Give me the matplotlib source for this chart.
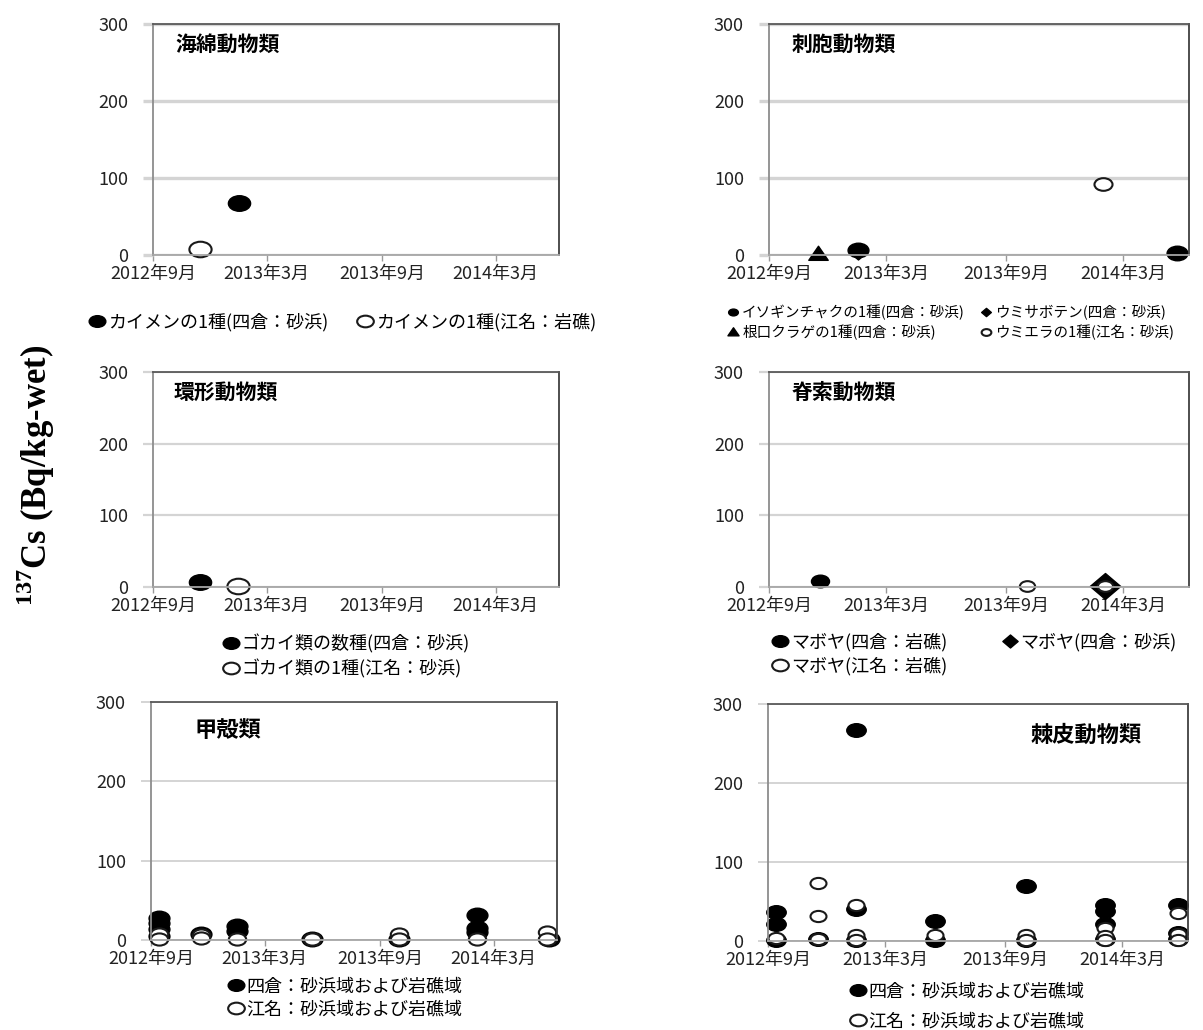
import matplotlib
matplotlib.use('Agg')
import matplotlib.pyplot as plt
import pandas as pd
from matplotlib.path import Path
from matplotlib.lines import Line2D

plt.rcParams['font.family'] = ['Noto Sans CJK JP', 'DejaVu Sans']
plt.rcParams['mathtext.fontset'] = 'custom'
plt.rcParams['mathtext.rm'] = 'Liberation Serif:bold'
plt.rcParams['mathtext.bf'] = 'Liberation Serif:bold'

# ---- データ (137Cs, Bq/kg-wet) ----
# 海綿動物類
kaimen_yotsukura_date = ['2013-01-16']
kaimen_yotsukura_cs = [67]
kaimen_ena_date = ['2012-11-15']
kaimen_ena_cs = [8]

# 刺胞動物類
isoginchaku_date = ['2013-01-16', '2014-05-22']
isoginchaku_cs = [6, 2]
umisaboten_date = ['2013-01-16']
umisaboten_cs = [3]
nekuchi_date = ['2012-11-16']
nekuchi_cs = [1]
umiera_date = ['2014-01-28']
umiera_cs = [92]

# 環形動物類
gokai_yotsukura_date = ['2012-11-15']
gokai_yotsukura_cs = [7]
gokai_ena_date = ['2013-01-15']
gokai_ena_cs = [1]

# 脊索動物類
maboya_rock_date = ['2012-11-18']
maboya_rock_cs = [8]
maboya_sand_date = ['2014-01-31']
maboya_sand_cs = [1]
maboya_ena_date = ['2013-10-04', '2014-01-31']
maboya_ena_cs = [1, 2]

# 甲殻類
koukaku_yotsukura_date = ['2012-09-13', '2012-09-13', '2012-09-13', '2012-09-13',
                          '2012-11-19', '2013-01-16', '2013-01-16', '2013-05-16',
                          '2013-10-02', '2014-02-03', '2014-02-03', '2014-02-03',
                          '2014-05-29']
koukaku_yotsukura_cs = [28, 21, 14, 5, 7, 17, 11, 1, 1, 32, 15, 10, 1]
koukaku_ena_date = ['2012-09-13', '2012-09-13', '2012-11-19', '2012-11-19',
                    '2013-01-16', '2013-05-16', '2013-10-02', '2013-10-02',
                    '2014-02-03', '2014-05-25', '2014-05-25']
koukaku_ena_cs = [8, 1, 6, 3, 1, 1, 8, 1, 1, 10, 1]

# 棘皮動物類
kyokuhi_yotsukura_date = ['2012-09-13', '2012-09-13', '2012-09-13', '2012-11-17',
                          '2013-01-14', '2013-01-14', '2013-01-14', '2013-05-16',
                          '2013-05-16', '2013-10-03', '2013-10-03', '2014-02-02',
                          '2014-02-02', '2014-02-02', '2014-02-02', '2014-05-25',
                          '2014-05-25', '2014-05-25']
kyokuhi_yotsukura_cs = [37, 21, 1, 3, 267, 41, 1, 25, 1, 69, 1, 46, 38, 22, 3, 46, 10, 2]
kyokuhi_ena_date = ['2012-09-13', '2012-11-17', '2012-11-17', '2012-11-17',
                    '2013-01-14', '2013-01-14', '2013-01-14', '2013-05-16',
                    '2013-10-03', '2013-10-03', '2014-02-02', '2014-02-02',
                    '2014-02-02', '2014-05-25', '2014-05-25', '2014-05-25']
kyokuhi_ena_cs = [4, 73, 32, 2, 46, 8, 1, 8, 8, 1, 16, 6, 1, 35, 9, 1]

xtick_dates = ['2012-09-01', '2013-03-01', '2013-09-01', '2014-03-01']
xtick_labels = ['2012年9月', '2013年3月', '2013年9月', '2014年3月']
yticks = [0, 100, 200, 300]

# 横長の楕円・ひし形マーカー
circ = Path.unit_circle()
ellipse = Path(circ.vertices * [1.0, 0.7], circ.codes)
diamond = Path([[0, 0.85], [1, 0], [0, -0.85], [-1, 0], [0, 0.85]],
               [Path.MOVETO, Path.LINETO, Path.LINETO, Path.LINETO, Path.CLOSEPOLY])
triangle = Path([[0, 0.85], [1, -0.6], [-1, -0.6], [0, 0.85]],
                [Path.MOVETO, Path.LINETO, Path.LINETO, Path.CLOSEPOLY])

FILLED = dict(marker=ellipse, ls='none', mfc='black', mec='black', mew=1.0)
OPEN = dict(marker=ellipse, ls='none', mfc='white', mec='#1a1a1a', mew=1.5)

fig = plt.figure(figsize=(12.03, 10.30), dpi=100)

positions = [
    [0.1272, 0.7524, 0.3375, 0.2243],
    [0.6392, 0.7524, 0.3491, 0.2243],
    [0.1272, 0.4301, 0.3375, 0.2087],
    [0.6392, 0.4301, 0.3491, 0.2087],
    [0.1255, 0.0874, 0.3375, 0.2311],
    [0.6384, 0.0864, 0.3491, 0.2301],
]
grid_lw = [2.4, 2.4, 1.6, 1.6, 1.4, 1.4]
axes = [fig.add_axes(p) for p in positions]


def d(lst):
    return pd.to_datetime(lst)


for i, ax in enumerate(axes):
    ax.set_xlim(pd.Timestamp('2012-09-01'), pd.Timestamp('2014-06-10'))
    ax.set_ylim(0, 300)
    ax.set_xticks(d(xtick_dates))
    ax.set_xticklabels(xtick_labels, fontsize=13, color='#222222')
    ax.set_yticks(yticks)
    ax.set_yticklabels([str(v) for v in yticks], fontsize=13, color='#222222')
    ax.yaxis.grid(True, color='#d4d4d4', lw=grid_lw[i])
    ax.set_axisbelow(True)
    ax.tick_params(axis='y', length=7, width=grid_lw[i], color='#d4d4d4', pad=11)
    ax.tick_params(axis='x', length=4, width=1, color='#999999', pad=3)
    ax.spines['left'].set_color('#8c8c8c')
    ax.spines['bottom'].set_color('#a6a6a6')
    ax.spines['top'].set_color('#595959')
    ax.spines['right'].set_color('#404040')
    for s in ax.spines.values():
        s.set_linewidth(1.3)


def legend(ax, handles, labels, x, y, ncol=1, fs=13, **kw):
    ax.legend(handles, labels, loc='center', bbox_to_anchor=(x, y),
              bbox_transform=fig.transFigure, ncol=ncol, frameon=False,
              fontsize=fs, handlelength=0.9, handletextpad=0.15, borderpad=0,
              **kw)


# 海綿動物類
ax = axes[0]
ax.plot(d(kaimen_yotsukura_date), kaimen_yotsukura_cs, ms=16, clip_on=False, **FILLED)
ax.plot(d(kaimen_ena_date), kaimen_ena_cs, ms=16, clip_on=False, **OPEN)
ax.text(0.054, 0.91, '海綿動物類', transform=ax.transAxes, fontsize=15,
        fontweight='bold', va='center')
legend(ax, [Line2D([], [], ms=12, **FILLED), Line2D([], [], ms=12, **OPEN)],
       ['カイメンの1種(四倉：砂浜)', 'カイメンの1種(江名：岩礁)'],
       0.285, 0.687, ncol=2, columnspacing=1.6)

# 刺胞動物類
ax = axes[1]
ax.plot(d(nekuchi_date), nekuchi_cs, marker=triangle, ls='none', color='black',
        ms=14, clip_on=False)
ax.plot(d(umisaboten_date), umisaboten_cs, marker=diamond, ls='none', color='black',
        ms=11, clip_on=False)
ax.plot(d(isoginchaku_date), isoginchaku_cs, ms=15, clip_on=False, **FILLED)
ax.plot(d(umiera_date), umiera_cs, ms=13, clip_on=False, **OPEN)
ax.text(0.055, 0.91, '刺胞動物類', transform=ax.transAxes, fontsize=15,
        fontweight='bold', va='center')
legend(ax,
       [Line2D([], [], ms=7, **FILLED),
        Line2D([], [], marker=triangle, ls='none', color='black', ms=8),
        Line2D([], [], marker=diamond, ls='none', color='black', ms=7),
        Line2D([], [], ms=7, **OPEN)],
       ['イソギンチャクの1種(四倉：砂浜)', '根口クラゲの1種(四倉：砂浜)',
        'ウミサボテン(四倉：砂浜)', 'ウミエラの1種(江名：砂浜)'],
       0.79, 0.687, ncol=2, fs=10.5, columnspacing=1.0, labelspacing=0.3)

# 環形動物類
ax = axes[2]
ax.plot(d(gokai_yotsukura_date), gokai_yotsukura_cs, ms=16, clip_on=False, **FILLED)
ax.plot(d(gokai_ena_date), gokai_ena_cs, ms=16, clip_on=False, **OPEN)
ax.text(0.05, 0.905, '環形動物類', transform=ax.transAxes, fontsize=15,
        fontweight='bold', va='center')
legend(ax, [Line2D([], [], ms=12, **FILLED), Line2D([], [], ms=12, **OPEN)],
       ['ゴカイ類の数種(四倉：砂浜)', 'ゴカイ類の1種(江名：砂浜)'],
       0.288, 0.363, labelspacing=0.3)

# 脊索動物類
ax = axes[3]
ax.plot(d(maboya_rock_date), maboya_rock_cs, ms=13, clip_on=False, **FILLED)
ax.plot(d(maboya_sand_date), maboya_sand_cs, marker=diamond, ls='none',
        color='black', ms=22, clip_on=False)
ax.plot(d(maboya_ena_date), maboya_ena_cs, ms=11, clip_on=False, **OPEN)
ax.text(0.055, 0.905, '脊索動物類', transform=ax.transAxes, fontsize=15,
        fontweight='bold', va='center')
legend(ax,
       [Line2D([], [], ms=12, **FILLED), Line2D([], [], ms=12, **OPEN),
        Line2D([], [], marker=diamond, ls='none', color='black', ms=11)],
       ['マボヤ(四倉：岩礁)', 'マボヤ(江名：岩礁)', 'マボヤ(四倉：砂浜)'],
       0.81, 0.365, ncol=2, columnspacing=3.0, labelspacing=0.3)

# 甲殻類
ax = axes[4]
ax.plot(d(koukaku_yotsukura_date), koukaku_yotsukura_cs, ms=15, clip_on=False, **FILLED)
ax.plot(d(koukaku_ena_date), koukaku_ena_cs, ms=12.5, clip_on=False, **OPEN)
ax.text(0.108, 0.878, '甲殻類', transform=ax.transAxes, fontsize=16,
        fontweight='bold', va='center')
legend(ax, [Line2D([], [], ms=12, **FILLED), Line2D([], [], ms=12, **OPEN)],
       ['四倉：砂浜域および岩礁域', '江名：砂浜域および岩礁域'],
       0.287, 0.031, labelspacing=0.3)

# 棘皮動物類
ax = axes[5]
ax.plot(d(kyokuhi_yotsukura_date), kyokuhi_yotsukura_cs, ms=14, clip_on=False, **FILLED)
ax.plot(d(kyokuhi_ena_date), kyokuhi_ena_cs, ms=11.5, clip_on=False, **OPEN)
ax.text(0.624, 0.869, '棘皮動物類', transform=ax.transAxes, fontsize=16,
        fontweight='bold', va='center')
legend(ax, [Line2D([], [], ms=12, **FILLED), Line2D([], [], ms=12, **OPEN)],
       ['四倉：砂浜域および岩礁域', '江名：砂浜域および岩礁域'],
       0.804, 0.023, labelspacing=0.65)

# 縦軸タイトル
fig.text(0.03, 0.538, r'$^{137}$Cs (Bq/kg-wet)', rotation=90, fontsize=25,
         fontfamily='Liberation Serif', fontweight='bold', ha='center', va='center')

fig.savefig('out.png', dpi=100)
